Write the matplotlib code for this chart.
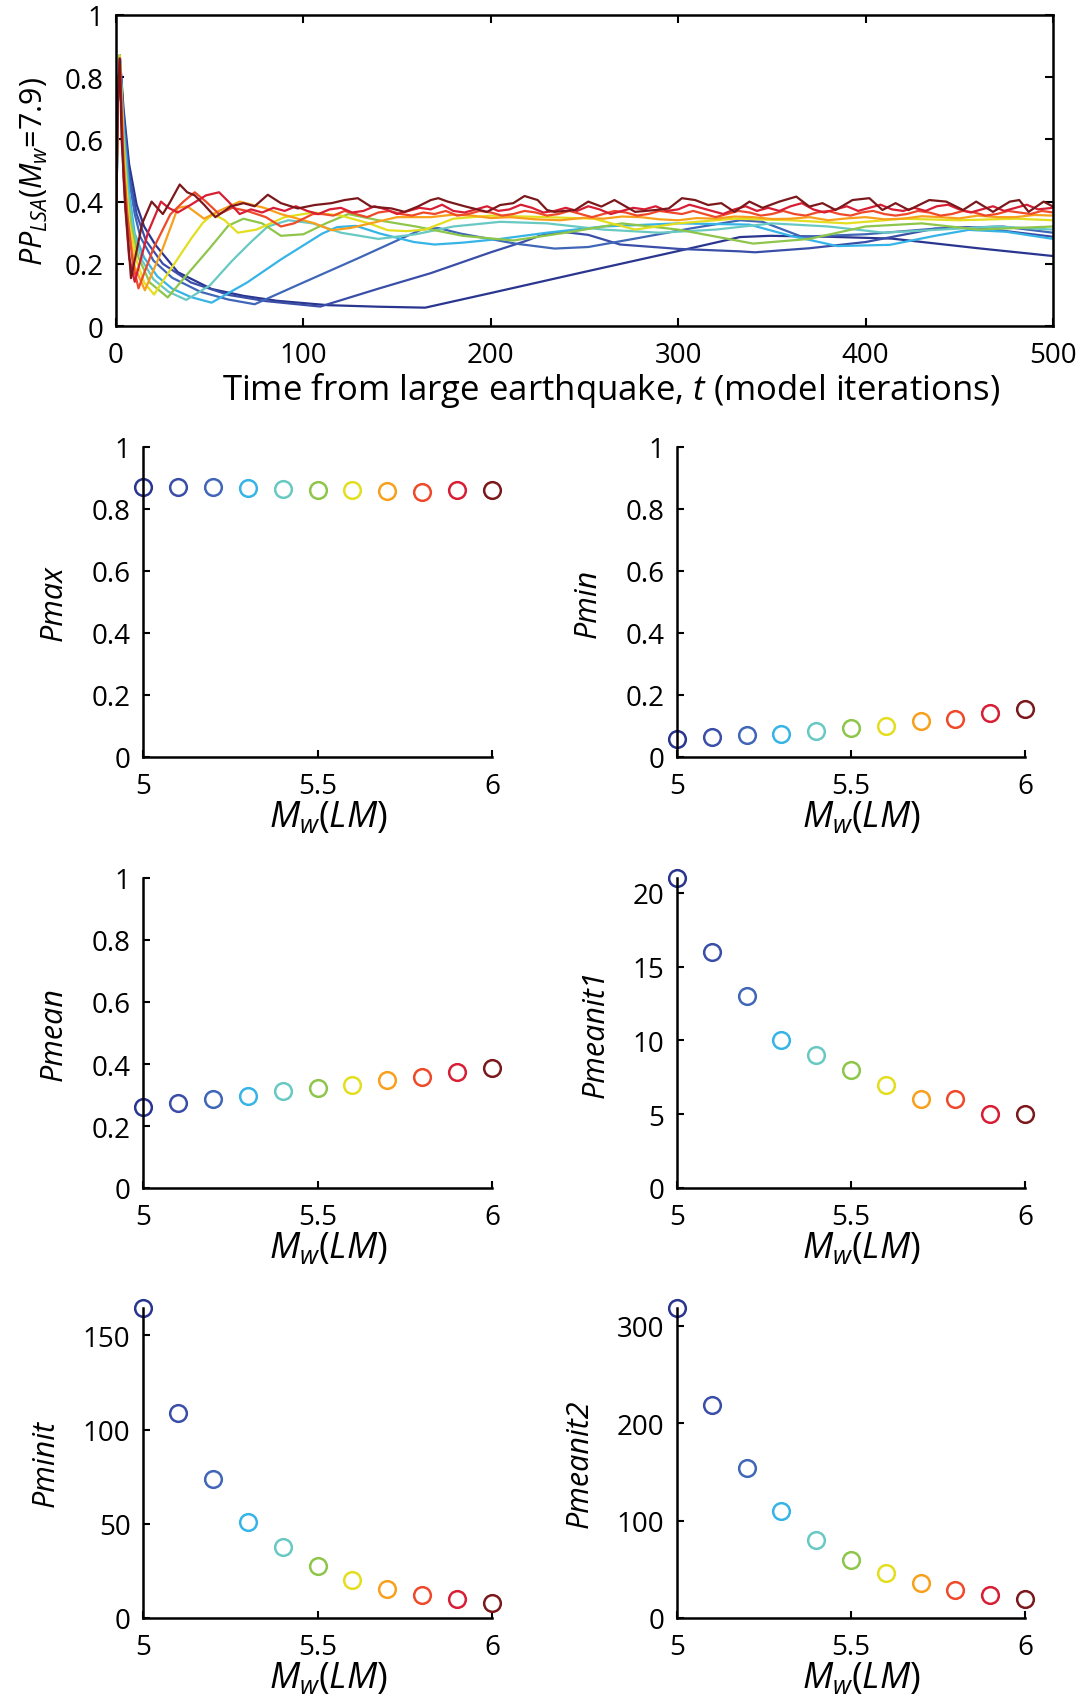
import matplotlib
matplotlib.use("Agg")
import matplotlib.pyplot as plt

plt.rcParams['font.family'] = ['Open Sans', 'DejaVu Sans']
plt.rcParams['mathtext.fontset'] = 'custom'
plt.rcParams['mathtext.rm'] = 'Open Sans'
plt.rcParams['mathtext.it'] = 'Open Sans:italic'
plt.rcParams['mathtext.bf'] = 'Open Sans:bold'

# ---------------- data: lower panels ----------------
mw = [5.0, 5.1, 5.2, 5.3, 5.4, 5.5, 5.6, 5.7, 5.8, 5.9, 6.0]
pmax = [0.871, 0.871, 0.871, 0.868, 0.864, 0.862, 0.860, 0.858, 0.856, 0.860, 0.860]
pmin = [0.059, 0.063, 0.070, 0.075, 0.084, 0.092, 0.101, 0.115, 0.121, 0.142, 0.154]
pmean = [0.261, 0.274, 0.286, 0.297, 0.313, 0.323, 0.333, 0.347, 0.359, 0.375, 0.388]
pmeanit1 = [21, 16, 13, 10, 9, 8, 7, 6, 6, 5, 5]
pminit = [164.5, 109, 74, 51, 37.5, 27.6, 20.3, 15.4, 12, 10.3, 8.1]
pmeanit2 = [318, 218, 154, 110, 80, 60, 46.5, 36, 29, 24, 19]

colors = ['#2A3590', '#3A4EA8', '#4066B8', '#36B4E6', '#68C9C3', '#8DC64B',
          '#E3DE1F', '#F8A01C', '#EE4A2A', '#D81E34', '#7B181C']

# ---------------- data: top panel time series ----------------
t_50 = [0, 1, 2, 4, 7, 11, 15, 21, 33, 51, 68, 86, 113, 140, 165, 200, 250, 300, 333, 349, 380, 414, 460, 500]
p_50 = [.27, .72, .87, .70, .52, .39, .32, .261, .173, .119, .097, .081, .067, .062, .059, .106, .174, .241, .286, .29, .287, .281, .25, .225]

t_51 = [0, 1, 2, 4, 7, 11, 16, 25, 40, 60, 80, 109, 140, 168, 200, 218, 226, 238, 252, 269, 300, 333, 341, 370, 400, 437, 455, 475, 500]
p_51 = [.28, .72, .87, .68, .49, .36, .274, .20, .14, .10, .08, .0625, .12, .17, .237, .272, .29, .303, .293, .262, .248, .24, .237, .25, .27, .313, .318, .305, .287]

t_52 = [0, 1, 2, 4, 7, 10, 13, 20, 30, 45, 60, 74, 100, 130, 154, 163, 172, 184, 213, 234, 252, 277, 306, 333, 345, 366, 400, 437, 473, 500]
p_52 = [.29, .72, .87, .66, .47, .36, .286, .21, .155, .11, .085, .070, .14, .22, .286, .31, .315, .297, .265, .249, .254, .281, .313, .34, .335, .287, .295, .313, .32, .30]

t_53 = [0, 1, 2, 4, 7, 10, 15, 22, 30, 40, 51, 70, 88, 110, 118, 128, 141, 159, 170, 185, 205, 230, 260, 300, 338, 360, 385, 413, 437, 455, 475, 500]
p_53 = [.30, .72, .87, .64, .43, .297, .22, .16, .12, .093, .075, .14, .214, .297, .318, .322, .297, .27, .262, .268, .28, .30, .32, .33, .326, .29, .257, .261, .29, .309, .303, .28]

t_54 = [0, 1, 2, 4, 6, 9, 14, 20, 28, 37.5, 50, 62, 72, 81, 92, 105, 120, 140, 160, 180, 205, 230, 260, 290, 320, 350, 380, 410, 440, 470, 500]
p_54 = [.31, .72, .87, .62, .45, .3125, .21, .15, .11, .084, .13, .21, .27, .32, .34, .33, .30, .28, .295, .32, .335, .33, .31, .30, .31, .33, .32, .30, .31, .32, .31]

t_55 = [0, 1, 2, 4, 6, 8, 12, 18, 27.6, 40, 50, 60, 68, 78, 88, 100, 112, 124, 140, 160, 185, 212, 240, 270, 300, 340, 370, 400, 430, 460, 500]
p_55 = [.32, .72, .87, .60, .42, .323, .22, .14, .092, .18, .25, .323, .345, .33, .29, .295, .33, .36, .34, .32, .29, .275, .30, .33, .31, .265, .28, .32, .33, .31, .32]

t_56 = [0, 1, 2, 4, 7, 11, 15, 20.3, 30, 40, 46.5, 52, 58, 65, 75, 90, 105, 120, 135, 145, 155, 165, 180, 200, 230, 255, 277, 300, 330, 360, 390, 420, 450, 480, 500]
p_56 = [.33, .72, .87, .58, .333, .21, .14, .101, .19, .28, .333, .36, .34, .30, .31, .35, .365, .355, .33, .308, .305, .31, .345, .355, .35, .345, .31, .33, .345, .34, .33, .345, .34, .345, .34]

t_57 = [0, 1, 2, 4, 6, 10, 15.4, 25, 33, 38, 47, 55, 66, 79, 88, 106, 115, 125, 150, 168, 180, 190, 200, 210, 224, 237, 250, 260, 270, 280, 290, 300, 310, 320, 330, 340, 350, 360, 370, 380, 390, 400, 410, 420, 430, 440, 450, 460, 470, 480, 490, 500]
p_57 = [.34, .72, .86, .55, .347, .19, .115, .25, .38, .385, .345, .37, .40, .38, .36, .33, .308, .315, .35, .35, .358, .355, .347, .35, .343, .34, .348, .345, .352, .35, .343, .34, .347, .345, .352, .35, .344, .345, .35, .34, .346, .35, .343, .345, .353, .35, .346, .355, .35, .35, .357, .355]

t_58 = [0, 1, 2, 4, 6, 9, 12, 20, 29, 36, 42, 48, 55, 62, 70, 80, 88, 95, 105,
        110, 116, 122, 128, 134, 140, 146, 152, 158, 164, 170, 176, 182, 188, 194, 200, 206, 212, 218, 224, 230, 236, 242, 248, 254, 260,
        266, 272, 278, 284, 290, 296, 302, 308, 314, 320, 326, 332, 338, 344, 350, 356, 362, 368, 374, 380, 386, 392, 398, 404, 410,
        416, 422, 428, 434, 440, 446, 452, 458, 464, 470, 476, 482, 488, 494, 500]
p_58 = [.35, .72, .856, .52, .359, .20, .121, .25, .359, .40, .43, .40, .36, .38, .37, .35, .32, .33, .36,
        .36, .355, .37, .36, .35, .365, .37, .36, .355, .365, .36, .37, .355, .36, .37, .365, .355, .36, .37, .365, .355, .36, .37, .36, .35, .36,
        .37, .365, .355, .36, .37, .365, .36, .37, .36, .35, .36, .37, .365, .355, .36, .37, .36, .355, .365, .37, .36, .355, .365, .37, .36,
        .355, .36, .37, .365, .355, .36, .37, .365, .355, .36, .37, .365, .36, .37, .365]

t_59 = [0, 1, 2, 4, 5, 7, 10, 17, 24, 28, 33, 40, 48, 55, 60, 66,
        72, 78, 84, 90, 96, 102, 108, 114, 120, 126, 132, 138, 144, 150, 156, 162, 168, 174, 180, 186, 192, 198, 204, 210, 216, 222,
        228, 234, 240, 246, 252, 258, 264, 270, 276, 282, 288, 294, 300, 306, 312, 318, 324, 330, 336, 342, 348, 354, 360, 366, 372,
        378, 384, 390, 396, 402, 408, 414, 420, 426, 432, 438, 444, 450, 456, 462, 468, 474, 480, 486, 492, 500]
p_59 = [.36, .72, .86, .48, .375, .22, .142, .30, .40, .38, .365, .39, .42, .43, .40, .36,
        .375, .365, .38, .37, .385, .37, .36, .375, .38, .365, .37, .385, .375, .36, .37, .38, .375, .39, .37, .365, .375, .385, .37, .375, .39, .38,
        .365, .37, .38, .37, .385, .375, .36, .37, .38, .375, .385, .37, .375, .39, .38, .37, .36, .375, .385, .37, .38, .37, .385, .395, .375,
        .365, .375, .385, .37, .38, .39, .375, .37, .38, .37, .385, .39, .375, .365, .375, .385, .37, .38, .39, .375, .38]

t_60 = [0, 1, 2, 3, 5, 8, 14, 19, 22, 25, 29, 34, 38, 42, 47, 53, 58, 61, 68, 74, 81, 88, 97, 106, 115, 122, 129, 136, 147, 154,
        161, 168, 172, 177, 186, 198, 205, 212, 218, 225, 230, 234, 245, 252, 259, 266, 277, 288, 295, 302, 309, 316, 323, 330,
        338, 345, 354, 363, 370, 377, 384, 393, 402, 409, 416, 423, 434, 443, 452, 459, 468, 477, 482, 487, 495, 500]
p_60 = [.37, .72, .86, .60, .388, .154, .33, .40, .38, .36, .40, .455, .43, .42, .39, .35, .37, .384, .395, .385, .422, .395, .378, .389, .395, .405, .411, .384, .378, .367,
        .384, .405, .411, .40, .385, .367, .389, .395, .418, .405, .373, .367, .373, .40, .384, .405, .367, .373, .378, .411, .405, .389, .395, .367,
        .40, .38, .40, .416, .384, .395, .373, .405, .411, .373, .395, .373, .405, .40, .373, .40, .367, .40, .405, .367, .40, .384]

series_t = [t_50, t_51, t_52, t_53, t_54, t_55, t_56, t_57, t_58, t_59, t_60]
series_p = [p_50, p_51, p_52, p_53, p_54, p_55, p_56, p_57, p_58, p_59, p_60]

# ---------------- figure ----------------
W, H = 1088, 1699
fig = plt.figure(figsize=(W / 100, H / 100), dpi=100)

FS_TICK = 20
SPW = 1.8


def frac(x0, y0, x1, y1):
    return [x0 / W, 1 - y1 / H, (x1 - x0) / W, (y1 - y0) / H]


# top panel
ax = fig.add_axes(frac(116, 16, 1053, 327))
for tt, pp, c in zip(series_t, series_p, colors):
    ax.plot(tt, pp, color=c, lw=1.6)
ax.set_xlim(0, 500)
ax.set_ylim(0, 1)
ax.set_xticks([0, 100, 200, 300, 400, 500])
ax.set_yticks([0, 0.2, 0.4, 0.6, 0.8, 1])
ax.set_yticklabels(['0', '0.2', '0.4', '0.6', '0.8', '1'])
ax.tick_params(direction='in', length=6, width=1.5, top=True, right=True,
               labelsize=FS_TICK)
ax.tick_params(axis='x', pad=11)
ax.tick_params(axis='y', pad=9)
for s in ax.spines.values():
    s.set_linewidth(SPW)
ax.set_xlabel('Time from large earthquake, $t$ (model iterations)', fontsize=25, labelpad=0)
ax.xaxis.set_label_coords(0.528, -0.14)
ax.set_ylabel(r'$PP_{LSA}$($M_w$=7.9)', fontsize=22, labelpad=10)

# small panels
L = (143, 492)
R = (677, 1025)
rows = [(448, 758), (879, 1189), (1309, 1619)]

panels = [
    (L, rows[0], pmax, 'Pmax', (0, 1), [0, 0.2, 0.4, 0.6, 0.8, 1], ['0', '0.2', '0.4', '0.6', '0.8', '1']),
    (R, rows[0], pmin, 'Pmin', (0, 1), [0, 0.2, 0.4, 0.6, 0.8, 1], ['0', '0.2', '0.4', '0.6', '0.8', '1']),
    (L, rows[1], pmean, 'Pmean', (0, 1), [0, 0.2, 0.4, 0.6, 0.8, 1], ['0', '0.2', '0.4', '0.6', '0.8', '1']),
    (R, rows[1], pmeanit1, 'Pmeanit1', (0, max(pmeanit1)), [0, 5, 10, 15, 20], ['0', '5', '10', '15', '20']),
    (L, rows[2], pminit, 'Pminit', (0, max(pminit)), [0, 50, 100, 150], ['0', '50', '100', '150']),
    (R, rows[2], pmeanit2, 'Pmeanit2', (0, max(pmeanit2)), [0, 100, 200, 300], ['0', '100', '200', '300']),
]

for (xc, yr, vals, lab, ylim, yt, ytl) in panels:
    a = fig.add_axes(frac(xc[0], yr[0], xc[1], yr[1]))
    for x, y, c in zip(mw, vals, colors):
        a.plot([x], [y], 'o', mfc='none', mec=c, mew=1.8, ms=12, clip_on=False)
    a.set_xlim(5, 6)
    a.set_ylim(*ylim)
    a.set_xticks([5, 5.5, 6])
    a.set_xticklabels(['5', '5.5', '6'])
    a.set_yticks(yt)
    a.set_yticklabels(ytl)
    a.spines['top'].set_visible(False)
    a.spines['right'].set_visible(False)
    for s in ('left', 'bottom'):
        a.spines[s].set_linewidth(SPW)
    a.tick_params(direction='in', length=5, width=1.5, labelsize=FS_TICK)
    a.tick_params(axis='x', pad=11)
    a.tick_params(axis='y', pad=9)
    a.set_xlabel(r'$M_w(LM)$', fontsize=26, labelpad=0)
    a.xaxis.set_label_coords(0.53, -0.135)
    a.set_ylabel(lab, fontsize=22, fontstyle='italic', labelpad=16)

fig.savefig('out.png', dpi=100)
